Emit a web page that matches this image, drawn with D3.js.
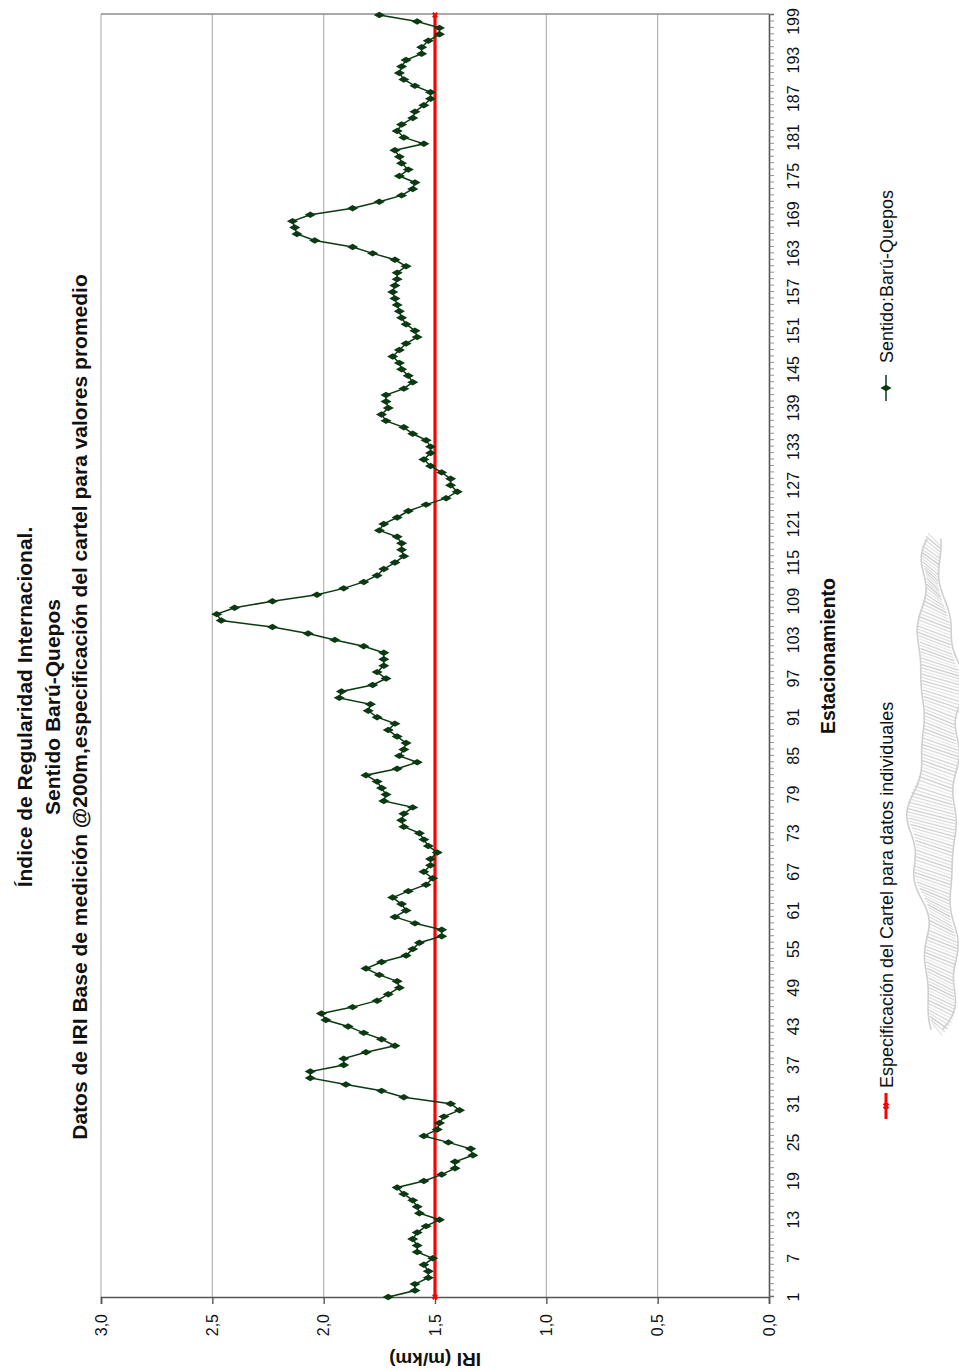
<!DOCTYPE html>
<html>
<head>
<meta charset="utf-8">
<script src="https://cdn.jsdelivr.net/npm/d3@7/dist/d3.min.js"></script>
<style>
  body { margin: 0; background: #fff; }
  text { font-family: "Liberation Sans", Arial, sans-serif; }
</style>
</head>
<body>
<svg id="chart" width="959" height="1371"></svg>
<script>
// Chart text
const titleLines = [
  "Índice de Regularidad Internacional.",
  "Sentido Barú-Quepos",
  "Datos de IRI Base de medición @200m,especificación del cartel para valores promedio"
];
const xTitle = "Estacionamiento";
const yTitle = "IRI (m/km)";
const seriesNames = ["Especificación del Cartel para datos individuales", "Sentido:Barú-Quepos"];

// Stations (every 200 m) and measured IRI, m/km
const stations = d3.range(1, 201);
const iri = [
  1.71, 1.59, 1.59, 1.53, 1.53, 1.55, 1.51, 1.58, 1.58, 1.60,
  1.58, 1.54, 1.48, 1.57, 1.58, 1.60, 1.64, 1.67, 1.55, 1.47,
  1.41, 1.41, 1.33, 1.34, 1.44, 1.55, 1.49, 1.48, 1.46, 1.39,
  1.43, 1.64, 1.74, 1.90, 2.06, 2.06, 1.91, 1.91, 1.81, 1.68,
  1.74, 1.82, 1.89, 1.99, 2.01, 1.87, 1.76, 1.71, 1.66, 1.67,
  1.75, 1.81, 1.74, 1.63, 1.60, 1.57, 1.47, 1.47, 1.59, 1.68,
  1.63, 1.65, 1.69, 1.62, 1.54, 1.51, 1.55, 1.52, 1.52, 1.49,
  1.53, 1.55, 1.57, 1.64, 1.65, 1.64, 1.60, 1.73, 1.72, 1.74,
  1.76, 1.81, 1.67, 1.58, 1.66, 1.64, 1.63, 1.67, 1.71, 1.68,
  1.76, 1.80, 1.79, 1.93, 1.92, 1.78, 1.72, 1.76, 1.73, 1.73,
  1.73, 1.82, 1.95, 2.07, 2.23, 2.46, 2.48, 2.40, 2.23, 2.03,
  1.91, 1.82, 1.76, 1.73, 1.68, 1.64, 1.65, 1.65, 1.67, 1.75,
  1.73, 1.67, 1.62, 1.54, 1.45, 1.40, 1.43, 1.43, 1.47, 1.52,
  1.55, 1.52, 1.52, 1.54, 1.60, 1.64, 1.72, 1.74, 1.71, 1.72,
  1.72, 1.64, 1.60, 1.62, 1.65, 1.66, 1.69, 1.66, 1.63, 1.58,
  1.59, 1.63, 1.65, 1.66, 1.67, 1.68, 1.69, 1.68, 1.67, 1.67,
  1.63, 1.68, 1.78, 1.87, 2.04, 2.12, 2.13, 2.14, 2.06, 1.87,
  1.75, 1.65, 1.60, 1.59, 1.66, 1.62, 1.65, 1.66, 1.68, 1.55,
  1.64, 1.67, 1.65, 1.60, 1.59, 1.55, 1.52, 1.52, 1.59, 1.64,
  1.66, 1.65, 1.63, 1.56, 1.56, 1.53, 1.48, 1.48, 1.58, 1.75
];
// Specification limit for individual values
const specLimit = [1.5, 1.5];
const specStations = [1, 200];

// Axis ticks
const valueTicks = [0, 0.5, 1, 1.5, 2, 2.5, 3];
const stationLabels = d3.range(1, 200, 6);

// The chart is laid out in a landscape frame and turned a quarter-turn
const W = 1371, H = 959;
const svg = d3.select("#chart");
const g = svg.append("g").attr("transform", `translate(0,${W}) rotate(-90)`);

const plot = { left: 73, right: 1357, top: 101, bottom: 769 };
const x = d3.scaleLinear().domain([1, 200]).range([plot.left + 1, plot.right - 1]);
const y = d3.scaleLinear().domain([0, 3]).range([plot.bottom, plot.top]);

const fmt = v => d3.format(".1f")(v).replace(".", ",");

// Faint sketched emblem in the lower corner
const emblem = g.append("g").attr("stroke", "#cfcfcf").attr("fill", "none").attr("stroke-linecap", "round");
const embU = d3.range(342, 832, 3.2);
const embWidth = u => {
  const t = (u - 342) / 490;
  return 5 + 14 * Math.pow(Math.sin(Math.PI * t), 0.7) + 3 * Math.sin(t * 19) + 2 * Math.sin(t * 47);
};
const embCenter = u => 937 + 5 * Math.sin((u - 342) / 41) + 2 * Math.sin((u - 342) / 13);
emblem.selectAll("line").data(embU).join("line")
  .attr("x1", u => u + 6).attr("y1", u => embCenter(u) - embWidth(u))
  .attr("x2", u => u - 6).attr("y2", u => embCenter(u) + embWidth(u))
  .attr("stroke-width", 1.3).attr("opacity", (u, i) => 0.5 + 0.5 * ((i * 7) % 5) / 4);
emblem.append("path")
  .attr("d", d3.line().curve(d3.curveBasis).x(u => u).y(u => embCenter(u) - embWidth(u) - 1)(embU))
  .attr("stroke-width", 1.6);
emblem.append("path")
  .attr("d", d3.line().curve(d3.curveBasis).x(u => u).y(u => embCenter(u) + embWidth(u) + 1)(embU))
  .attr("stroke-width", 1.6);

// Gridlines
g.append("g").selectAll("line").data(valueTicks.filter(v => v > 0)).join("line")
  .attr("x1", plot.left).attr("x2", plot.right)
  .attr("y1", d => y(d)).attr("y2", d => y(d))
  .attr("stroke", "#b4b4b4").attr("stroke-width", 1.2);

// Plot border on the far side
g.append("line")
  .attr("x1", plot.right).attr("x2", plot.right)
  .attr("y1", plot.top).attr("y2", plot.bottom)
  .attr("stroke", "#8c8c8c").attr("stroke-width", 1.6);

// Value axis
const yAxis = d3.axisLeft(y).tickValues(valueTicks).tickFormat(fmt).tickSize(6).tickPadding(10);
const yg = g.append("g").attr("transform", `translate(${plot.left},0)`).call(yAxis);
yg.select(".domain").attr("stroke", "#555").attr("stroke-width", 1.6);
yg.selectAll(".tick line").attr("stroke", "#555").attr("stroke-width", 1.4);
yg.selectAll(".tick text").attr("font-size", 16).attr("fill", "#111")
  .style("font-family", "'Liberation Sans', Arial, sans-serif");

// Category axis: a tick at every station, a label every sixth
const xAxis = d3.axisBottom(x).tickValues(stations).tickSize(5).tickFormat("");
const xg = g.append("g").attr("transform", `translate(0,${plot.bottom})`).call(xAxis);
xg.select(".domain").attr("stroke", "#555").attr("stroke-width", 1.6);
xg.selectAll(".tick line").attr("stroke", "#777").attr("stroke-width", 0.8);
g.append("g").selectAll("text").data(stationLabels).join("text")
  .attr("x", d => x(d)).attr("y", plot.bottom + 30)
  .attr("text-anchor", "middle").attr("font-size", 16).attr("fill", "#111")
  .text(d => d);

// Specification line
const specData = specStations.map((s, i) => [s, specLimit[i]]);
g.append("path").datum(specData)
  .attr("d", d3.line().x(d => x(d[0])).y(d => y(d[1])))
  .attr("fill", "none").attr("stroke", "#ff0000").attr("stroke-width", 3.2);
g.append("g").selectAll("path").data(specData).join("path")
  .attr("transform", d => `translate(${x(d[0])},${y(d[1])}) rotate(45)`)
  .attr("d", d3.symbol(d3.symbolCross, 22)())
  .attr("fill", "#ff0000");

// Measured series
const pts = stations.map((s, i) => [s, iri[i]]);
const green = "#0b3a12";
g.append("path").datum(pts)
  .attr("d", d3.line().x(d => x(d[0])).y(d => y(d[1])))
  .attr("fill", "none").attr("stroke", green).attr("stroke-width", 1.5);
g.append("g").selectAll("path").data(pts).join("path")
  .attr("transform", d => `translate(${x(d[0])},${y(d[1])})`)
  .attr("d", d3.symbol(d3.symbolDiamond, 36)())
  .attr("fill", green);

// Titles
g.append("g").selectAll("text").data(titleLines).join("text")
  .attr("x", 664).attr("y", (d, i) => 32 + i * 27.5)
  .attr("text-anchor", "middle").attr("font-size", 21).attr("font-weight", "bold")
  .attr("fill", "#111").text(d => d);

g.append("text").attr("x", (plot.left + plot.right) / 2).attr("y", 835)
  .attr("text-anchor", "middle").attr("font-size", 19.5).attr("font-weight", "bold")
  .attr("fill", "#111").text(xTitle);

g.append("text")
  .attr("transform", `translate(18,${(plot.top + plot.bottom) / 2}) rotate(-90)`)
  .attr("text-anchor", "middle").attr("font-size", 19).attr("font-weight", "bold")
  .attr("fill", "#111").text(yTitle);

// Legend
const legend = g.append("g").attr("transform", "translate(0,886)");
const l1 = legend.append("g").attr("transform", "translate(252,0)");
l1.append("line").attr("x1", 0).attr("x2", 26).attr("stroke", "#ff0000").attr("stroke-width", 3);
l1.append("path").attr("transform", "translate(13,0) rotate(45)")
  .attr("d", d3.symbol(d3.symbolCross, 26)()).attr("fill", "#ff0000");
l1.append("text").attr("x", 31).attr("y", 6.5).attr("font-size", 18).attr("fill", "#111").text(seriesNames[0]);

const l2 = legend.append("g").attr("transform", "translate(970,0)");
l2.append("line").attr("x1", 0).attr("x2", 26).attr("stroke", green).attr("stroke-width", 1.5);
l2.append("path").attr("transform", "translate(13,0)")
  .attr("d", d3.symbol(d3.symbolDiamond, 36)()).attr("fill", green);
l2.append("text").attr("x", 38).attr("y", 6.5).attr("font-size", 18).attr("fill", "#111").text(seriesNames[1]);
</script>
</body>
</html>
